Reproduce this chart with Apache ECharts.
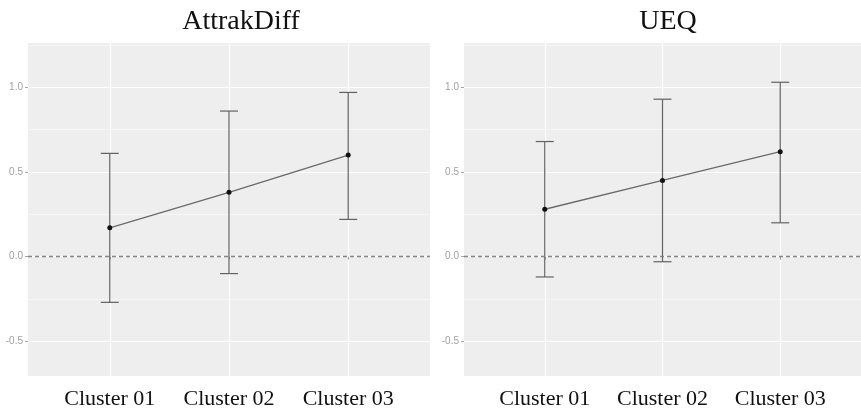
<!DOCTYPE html>
<html>
<head>
<meta charset="utf-8">
<script src="https://cdn.jsdelivr.net/npm/echarts@6/dist/echarts.min.js"></script>
<style>
  html, body { margin: 0; padding: 0; background: #ffffff; }
  #chart { width: 861px; height: 413px; }
</style>
</head>
<body>
<div id="chart"></div>
<script>
// ---- data ----
const categories = ['Cluster 01', 'Cluster 02', 'Cluster 03'];
const panelTitles = ['AttrakDiff', 'UEQ'];
const yTicks = [-0.5, 0.0, 0.5, 1.0];
const yMinorTicks = [-0.25, 0.25, 0.75, 1.25];
const attrakMean  = [0.17, 0.38, 0.60];
const attrakLower = [-0.27, -0.10, 0.22];
const attrakUpper = [0.61, 0.86, 0.97];
const ueqMean  = [0.28, 0.45, 0.62];
const ueqLower = [-0.12, -0.03, 0.20];
const ueqUpper = [0.68, 0.93, 1.03];
const refValue = 0;

const panels = [
  { mean: attrakMean, lower: attrakLower, upper: attrakUpper },
  { mean: ueqMean, lower: ueqLower, upper: ueqUpper }
];

const chart = echarts.init(document.getElementById('chart'), null, { renderer: 'canvas' });

const xPos = categories.map((c, i) => i + 1);
const grids = [
  { left: 28, top: 43, width: 402, height: 333 },
  { left: 464, top: 43, width: 402, height: 333 }
];

const xAxes = [], yAxes = [], series = [];
grids.forEach((g, gi) => {
  xAxes.push({
    type: 'value', gridIndex: gi, min: 0.314, max: 3.686,
    axisLine: { show: false },
    axisTick: { show: true, length: 3, lineStyle: { color: '#a5a5a5', width: 1 }, customValues: xPos },
    axisLabel: {
      customValues: xPos, margin: 12,
      formatter: v => categories[Math.round(v) - 1] || '',
      fontFamily: 'Liberation Serif', fontSize: 22, color: '#111'
    },
    splitLine: { show: true, lineStyle: { color: '#ffffff', width: 1.2 } }
  });
  yAxes.push({
    type: 'value', gridIndex: gi, min: -0.705, max: 1.262,
    axisLine: { show: false },
    axisTick: { show: true, length: 3, lineStyle: { color: '#a5a5a5', width: 1 }, customValues: yTicks },
    axisLabel: {
      customValues: yTicks, margin: 5,
      formatter: v => v.toFixed(1),
      fontFamily: 'Liberation Sans', fontSize: 10, color: '#a0a0a0'
    },
    splitLine: { show: true, lineStyle: { color: '#ffffff', width: 1.2 } }
  });
  yAxes.push({
    type: 'value', gridIndex: gi, min: -0.705, max: 1.262, position: 'left',
    axisLine: { show: false },
    axisTick: { show: false, customValues: yMinorTicks },
    axisLabel: { show: false, customValues: yMinorTicks },
    splitLine: { show: true, lineStyle: { color: '#f9f9f9', width: 0.7 } }
  });
  const p = panels[gi];
  series.push({
    type: 'custom', xAxisIndex: gi, yAxisIndex: gi * 2,
    data: xPos.map((x, i) => [x, p.lower[i], p.upper[i]]),
    renderItem: (params, api) => {
      const lo = api.coord([api.value(0), api.value(1)]);
      const hi = api.coord([api.value(0), api.value(2)]);
      const hw = 9;
      const style = { stroke: '#626262', lineWidth: 1.2 };
      return {
        type: 'group',
        children: [
          { type: 'line', shape: { x1: lo[0], y1: lo[1], x2: hi[0], y2: hi[1] }, style },
          { type: 'line', shape: { x1: lo[0] - hw, y1: lo[1], x2: lo[0] + hw, y2: lo[1] }, style },
          { type: 'line', shape: { x1: hi[0] - hw, y1: hi[1], x2: hi[0] + hw, y2: hi[1] }, style }
        ]
      };
    },
    z: 2
  });
  series.push({
    type: 'line', xAxisIndex: gi, yAxisIndex: gi * 2,
    data: xPos.map((x, i) => [x, p.mean[i]]),
    symbol: 'circle', symbolSize: 5, showSymbol: true,
    itemStyle: { color: '#111' },
    lineStyle: { color: '#6a6a6a', width: 1.3 },
    markLine: {
      silent: true, symbol: 'none', label: { show: false },
      lineStyle: { color: '#858585', type: [4, 3], width: 1.3 },
      data: [{ yAxis: refValue }]
    },
    z: 3
  });
});

chart.setOption({
  animation: false,
  backgroundColor: '#ffffff',
  title: [
    { text: panelTitles[0], left: 236, top: 3, textAlign: 'center',
      textStyle: { fontFamily: 'Liberation Serif', fontSize: 28, fontWeight: 'normal', color: '#111' } },
    { text: panelTitles[1], left: 663, top: 3, textAlign: 'center',
      textStyle: { fontFamily: 'Liberation Serif', fontSize: 28, fontWeight: 'normal', color: '#111' } }
  ],
  grid: grids.map(g => Object.assign({ show: true, backgroundColor: '#eeeeee', borderWidth: 0, containLabel: false }, g)),
  xAxis: xAxes,
  yAxis: yAxes,
  series: series
});
</script>
</body>
</html>
